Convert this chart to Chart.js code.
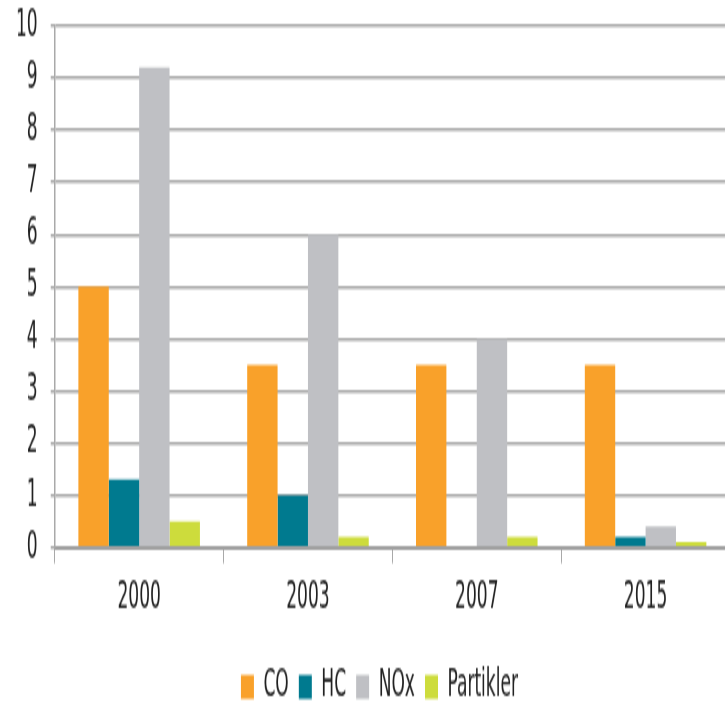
<!DOCTYPE html>
<html>
<head>
<meta charset="utf-8">
<script src="https://cdn.jsdelivr.net/npm/chart.js@4/dist/chart.umd.min.js"></script>
<style>
  html, body { margin: 0; padding: 0; background: #fff; overflow: hidden; }
  #outer { width: 725px; height: 702px; overflow: hidden; }
  #wrap { width: 756px; height: 363px; transform-origin: 0 0; transform: scaleY(2); }
</style>
</head>
<body>
<div id="outer"><div id="wrap"><canvas id="emis"></canvas></div></div>
<script>
// Emission limits per year
const years = ['2000', '2003', '2007', '2015'];
const coValues = [5.0, 3.5, 3.5, 3.5];
const hcValues = [1.3, 1.0, 0, 0.2];
const noxValues = [9.2, 6.0, 4.0, 0.4];
const partValues = [0.5, 0.2, 0.2, 0.1];
const yTicks = [0, 1, 2, 3, 4, 5, 6, 7, 8, 9, 10];

const fontFamily = '"Liberation Sans Narrow", "DejaVu Sans Condensed", sans-serif';
const gridColor = '#a9a9a9';

function bar(label, data, color) {
  return {
    label,
    data,
    backgroundColor: color,
    borderWidth: 0,
    barPercentage: 1.0,
    categoryPercentage: 0.72
  };
}

new Chart(document.getElementById('emis'), {
  type: 'bar',
  data: {
    labels: years,
    datasets: [
      bar('CO', coValues, '#f9a12a'),
      bar('HC', hcValues, '#007a8f'),
      bar('NOx', noxValues, '#bfc0c4'),
      bar('Partikler', partValues, '#cddc3c')
    ]
  },
  options: {
    responsive: true,
    maintainAspectRatio: false,
    animation: false,
    layout: { padding: { top: 0, left: 3, right: 0, bottom: 0 } },
    font: { family: fontFamily },
    plugins: {
      legend: {
        position: 'bottom',
        labels: {
          boxWidth: 13,
          boxHeight: 12,
          padding: 10,
          color: '#222',
          font: { family: fontFamily, size: 19 }
        }
      },
      tooltip: { enabled: false }
    },
    scales: {
      x: {
        afterFit: s => { s.height += 7.5; s.paddingRight = 26; },
        grid: {
          offset: true,
          drawOnChartArea: false,
          tickLength: 8,
          color: gridColor,
          lineWidth: 1
        },
        border: { color: '#a0a0a0', width: 2 },
        ticks: {
          color: '#222',
          padding: 6,
          font: { family: fontFamily, size: 19 }
        }
      },
      y: {
        min: 0,
        max: 10,
        afterBuildTicks: axis => { axis.ticks = yTicks.map(v => ({ value: v })); },
        grid: {
          color: gridColor,
          lineWidth: 1.5,
          tickLength: 4
        },
        border: { color: '#a9a9a9', width: 1.5 },
        ticks: {
          autoSkip: false,
          color: '#222',
          padding: 13,
          font: { family: fontFamily, size: 19, lineHeight: 0 }
        }
      }
    }
  }
});
</script>
</body>
</html>
